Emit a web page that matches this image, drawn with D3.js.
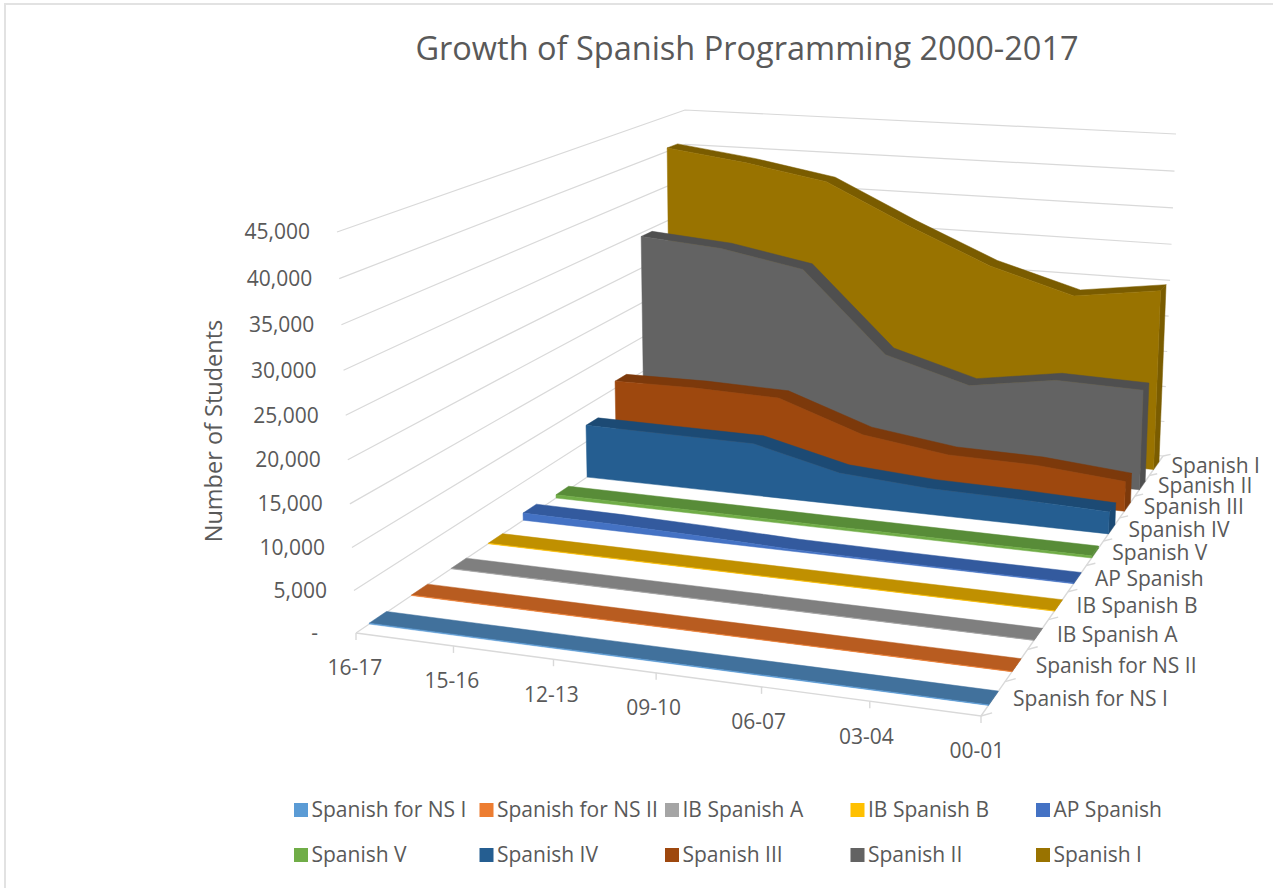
<!DOCTYPE html>
<html>
<head>
<meta charset="utf-8">
<script src="https://cdnjs.cloudflare.com/ajax/libs/d3/7.8.5/d3.min.js"></script>
<style>
    html, body { margin: 0; padding: 0; background: #fff; }
    text { font-family: "Open Sans", sans-serif; fill: #595959; }
</style>
</head>
<body>
<svg id="chart" width="1273" height="888"></svg>
<script>
var years = ['16-17', '15-16', '12-13', '09-10', '06-07', '03-04', '00-01'];
var seriesNames = ['Spanish for NS I', 'Spanish for NS II', 'IB Spanish A', 'IB Spanish B', 'AP Spanish',
    'Spanish V', 'Spanish IV', 'Spanish III', 'Spanish II', 'Spanish I'];
var valueTicks = [0, 5000, 10000, 15000, 20000, 25000, 30000, 35000, 40000, 45000];

var spanishNS1 = [110, 100, 100, 90, 90, 80, 70];
var spanishNS2 = [60, 60, 50, 50, 40, 40, 30];
var ibSpanishA = [50, 50, 40, 40, 30, 30, 20];
var ibSpanishB = [60, 50, 50, 40, 40, 30, 30];
var apSpanish = [950, 850, 600, 250, 150, 100, 100];
var spanishV = [450, 420, 400, 350, 330, 300, 280];
var spanishIV = [7300, 7200, 7100, 4300, 3500, 3300, 2900];
var spanishIII = [11000, 11100, 10800, 6800, 5200, 5000, 4000];
var spanishII = [29500, 28600, 26500, 15500, 12200, 14000, 13700];
var spanishI = [40500, 39000, 37000, 31600, 26700, 23400, 25000];
var seriesValues = [spanishNS1, spanishNS2, ibSpanishA, ibSpanishB, apSpanish,
    spanishV, spanishIV, spanishIII, spanishII, spanishI];

// face = legend colour, top = the darker shade on the ribbon top and end
var faceColors = ['#5b9bd5', '#ed7d31', '#a5a5a5', '#ffc000', '#4472c4', '#70ad47', '#255e91', '#9e480e', '#636363', '#997300'];
var topColors = ['#41719c', '#b85c20', '#7f7f7f', '#c09000', '#335a9e', '#588c38', '#1c4a74', '#7c390b', '#4f4f4f', '#7a5c00'];

var svg = d3.select('#chart');

// corners of the 3D box on screen: floor A B C D, top E (above A), F (above C), G (above D)
var A = [356, 633], B = [981, 716], C = [1163, 456], D = [688, 409], E = [337, 232], F = [1176, 134], G = [685, 110];

var dx1 = B[0] - C[0], dy1 = B[1] - C[1], dx2 = D[0] - C[0], dy2 = D[1] - C[1];
var sx = A[0] - B[0] + C[0] - D[0], sy = A[1] - B[1] + C[1] - D[1];
var det = dx1 * dy2 - dy1 * dx2;
var g = (sx * dy2 - sy * dx2) / det, h = (dx1 * sy - sx * dy1) / det;
var k = -0.05;
var rightFix = [0, 0], backFix = [0, 0];

// unit box (u along years, w up, v into the page) to screen
function project(u, w, v) {
    var den = 1 + g * u + h * v + k * w;
    return [0, 1].map(function (i) {
        var num = A[i] + (B[i] * (1 + g) - A[i]) * u + (D[i] * (1 + h) - A[i]) * v + (E[i] * (1 + k) - A[i]) * w;
        num += rightFix[i] * u * w + backFix[i] * (1 - u) * v * w;
        return num / den;
    });
}
// pull the top corners of the walls onto F and G
[0, 1].forEach(function (i) {
    rightFix[i] = (F[i] - project(1, 1, 1)[i]) * (1 + g + h + k);
    backFix[i] = (G[i] - project(0, 1, 1)[i]) * (1 + h + k);
});

var xScale = d3.scalePoint().domain(years).range([0, 1]);
var yScale = d3.scaleLinear().domain([0, 45000]).range([0, 1]);
var zScale = d3.scaleBand().domain(seriesNames).range([0, 1]).paddingInner(0.6).paddingOuter(0.3);

var line = d3.line();
var gridColor = '#d9d9d9';

// chart frame, only top and left show
svg.append('path').attr('d', line([[5, 888], [5, 4], [1273, 4]]))
    .attr('fill', 'none').attr('stroke', '#e2e2e2').attr('stroke-width', 2);

// walls
valueTicks.forEach(function (t) {
    var w = yScale(t);
    svg.append('path')
        .attr('d', line([project(0, w, 0), project(0, w, 1), project(1, w, 1)]))
        .attr('fill', 'none').attr('stroke', gridColor).attr('stroke-width', 1.2);
    var p = project(0, w, 0);
    svg.append('text')
        .attr('x', p[0] - (t === 0 ? 38 : 27)).attr('y', p[1])
        .attr('dy', '0.35em').attr('text-anchor', 'end').attr('font-size', 21)
        .text(t === 0 ? '-' : d3.format(',')(t));
});

// front axis
svg.append('path').attr('d', line([project(0, 0, 0), project(1, 0, 0), project(1, 0, 1)]))
    .attr('fill', 'none').attr('stroke', gridColor).attr('stroke-width', 1.4);
years.forEach(function (y) {
    var p = project(xScale(y), 0, 0);
    svg.append('path').attr('d', line([p, [p[0], p[1] + 7]]))
        .attr('stroke', gridColor).attr('stroke-width', 1.4);
    svg.append('text')
        .attr('x', p[0] - 1 - 3 * xScale(y)).attr('y', p[1] + 35)
        .attr('dy', '0.35em').attr('text-anchor', 'middle').attr('font-size', 21)
        .text(y);
});

// depth axis ticks and series names
d3.range(11).forEach(function (i) {
    var p = project(1, 0, i / 10), q = project(1.012, 0, i / 10 + 0.012);
    svg.append('path').attr('d', line([p, q]))
        .attr('stroke', gridColor).attr('stroke-width', 1.4);
});
seriesNames.forEach(function (name, i) {
    var v = zScale(name) + zScale.bandwidth() / 2;
    var p = project(1, 0, v);
    svg.append('text')
        .attr('x', p[0] + 20 - 5 * v).attr('y', p[1])
        .attr('dy', '0.35em').attr('font-size', 21)
        .text(name);
});

// ribbons, back to front
d3.range(seriesNames.length - 1, -1, -1).forEach(function (i) {
    var name = seriesNames[i], values = seriesValues[i];
    var v0 = zScale(name), v1 = v0 + zScale.bandwidth();
    var frontTop = years.map(function (y, j) { return project(xScale(y), yScale(values[j]), v0); });
    var backTop = years.map(function (y, j) { return project(xScale(y), yScale(values[j]), v1); });
    var last = values[values.length - 1];

    var layer = svg.append('g').attr('class', 'series');
    layer.append('path')
        .attr('d', line(frontTop.concat(backTop.slice().reverse())) + 'Z')
        .attr('fill', topColors[i]).attr('stroke', topColors[i]).attr('stroke-width', 0.5);
    layer.append('path')
        .attr('d', line([project(1, 0, v0), project(1, yScale(last), v0), project(1, yScale(last), v1), project(1, 0, v1)]) + 'Z')
        .attr('fill', topColors[i]).attr('stroke', topColors[i]).attr('stroke-width', 0.5);
    layer.append('path')
        .attr('d', line(frontTop.concat([project(1, 0, v0), project(0, 0, v0)])) + 'Z')
        .attr('fill', faceColors[i]).attr('stroke', faceColors[i]).attr('stroke-width', 0.5);
});

// title
svg.append('text').attr('x', 747).attr('y', 60).attr('text-anchor', 'middle')
    .attr('font-size', 32.5).text('Growth of Spanish Programming 2000-2017');

// value axis title
svg.append('text').attr('transform', 'translate(214,431) rotate(-90)')
    .attr('dy', '0.35em').attr('text-anchor', 'middle').attr('font-size', 23.5)
    .text('Number of Students');

// legend
var legendX = d3.scalePoint().domain(d3.range(5)).range([294, 1036]);
var legendY = d3.scalePoint().domain([0, 1]).range([810, 855]);
seriesNames.forEach(function (name, i) {
    var lx = legendX(i % 5), ly = legendY(Math.floor(i / 5));
    svg.append('rect').attr('x', lx).attr('y', ly - 7).attr('width', 14).attr('height', 14)
        .attr('fill', faceColors[i]);
    svg.append('text').attr('x', lx + 17.5).attr('y', ly).attr('dy', '0.35em')
        .attr('font-size', 21).text(name);
});
</script>
</body>
</html>
